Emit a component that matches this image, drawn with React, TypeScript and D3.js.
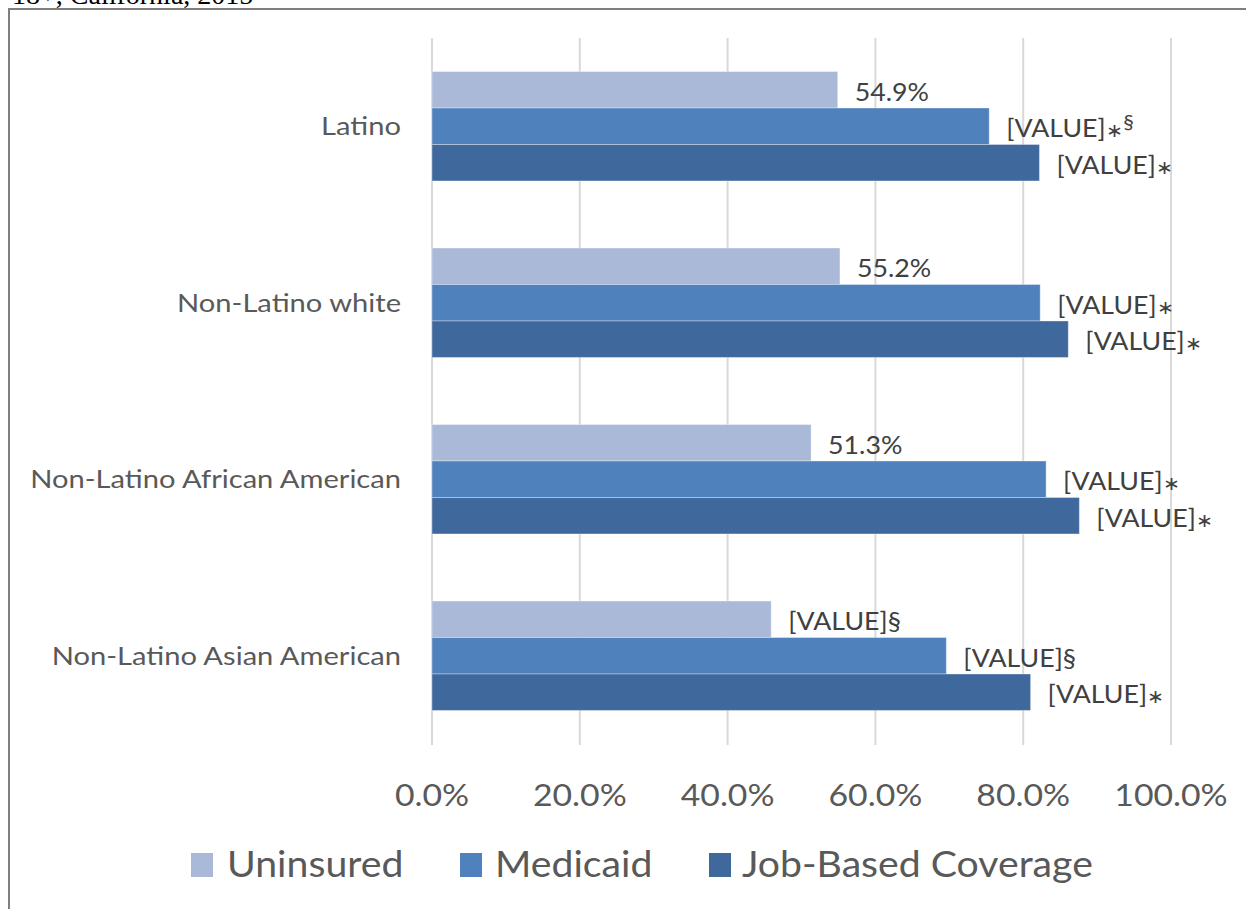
import React from "react";
import * as d3 from "d3";

const categories = ["Latino", "Non-Latino white", "Non-Latino African American", "Non-Latino Asian American"];
const seriesNames = ["Uninsured", "Medicaid", "Job-Based Coverage"];
const uninsured = [54.9, 55.2, 51.3, 45.9];
const medicaid = [75.4, 82.3, 83.1, 69.6];
const jobBased = [82.2, 86.1, 87.6, 81.0];
const uninsuredLabels = ["54.9%", "55.2%", "51.3%", "[VALUE]§"];
const medicaidLabels = ["[VALUE]∗^§", "[VALUE]∗", "[VALUE]∗", "[VALUE]§"];
const jobLabels = ["[VALUE]∗", "[VALUE]∗", "[VALUE]∗", "[VALUE]∗"];
const xTicks = [0, 20, 40, 60, 80, 100];
const colors = ["#AAB9D7", "#4F81BD", "#3F699C"];

const W = 1246;
const H = 909;
const FONT = "Lato, 'Liberation Sans', sans-serif";

function renderLabel(label: string) {
  const parts: React.ReactNode[] = [];
  let sup = false;
  let buf = "";
  const flush = (k: string) => {
    if (buf) parts.push(<tspan key={k}>{buf}</tspan>);
    buf = "";
  };
  for (let i = 0; i < label.length; i++) {
    const ch = label[i];
    if (ch === "^") {
      flush("b" + i);
      sup = true;
      continue;
    }
    if (ch === "∗") {
      flush("b" + i);
      parts.push(
        <tspan key={"a" + i} fontSize={19} dy={0}>
          ∗
        </tspan>
      );
      continue;
    }
    if (sup) {
      parts.push(
        <tspan key={"s" + i} dy={-8} fontSize={20}>
          {ch}
        </tspan>
      );
      continue;
    }
    buf += ch;
  }
  flush("end");
  return parts;
}

export default function App() {
  const x = d3.scaleLinear().domain([0, 100]).range([432, 1171]);
  const y = d3.scaleBand().domain(categories).range([38, 744]).paddingInner(0.38).paddingOuter(0.19);
  const sub = d3.scaleBand().domain(seriesNames).range([0, y.bandwidth()]);
  const series = [
    { name: seriesNames[0], values: uninsured, labels: uninsuredLabels },
    { name: seriesNames[1], values: medicaid, labels: medicaidLabels },
    { name: seriesNames[2], values: jobBased, labels: jobLabels },
  ];
  const legendItems = [
    { name: seriesNames[0], sx: 191, tx: 227 },
    { name: seriesNames[1], sx: 460, tx: 495 },
    { name: seriesNames[2], sx: 709, tx: 742 },
  ];
  return (
    <svg width={W} height={H} style={{ position: "absolute", left: 0, top: 0, background: "#fff" }}>
      <text x={12} y={4} fontFamily="'Liberation Serif', serif" fontSize={28} fill="#000">
        18+, California, 2015
      </text>
      <rect x={9} y={9} width={W} height={H} fill="none" stroke="#7F7F7F" strokeWidth={2} />
      {xTicks.map((t) => (
        <g key={t}>
          <line x1={x(t)} x2={x(t)} y1={38} y2={745} stroke="#D9D9D9" strokeWidth={2} />
          <text transform={`translate(${x(t)},806) scale(1.09,1)`} textAnchor="middle" fontFamily={FONT} fontSize={31} fill="#595959">
            {t.toFixed(1) + "%"}
          </text>
        </g>
      ))}
      {categories.map((c, i) => (
        <g key={c}>
          {series.map((s) => {
            const y0 = (y(c) as number) + (sub(s.name) as number);
            const h = sub.bandwidth();
            return (
              <g key={s.name}>
                <rect x={x(0)} y={y0} width={x(s.values[i]) - x(0)} height={h} fill={colors[seriesNames.indexOf(s.name)]} stroke="#fff" strokeOpacity={0.35} strokeWidth={1} />
                <text transform={`translate(${x(s.values[i]) + 17},${y0 + h / 2 + 11}) scale(1.07,1)`} fontFamily={FONT} fontSize={25} fill="#404040">
                  {renderLabel(s.labels[i])}
                </text>
              </g>
            );
          })}
          <text transform={`translate(401,${(y(c) as number) + y.bandwidth() / 2 + 9}) scale(1.12,1)`} textAnchor="end" fontFamily={FONT} fontSize={26} fill="#595959">
            {c}
          </text>
        </g>
      ))}
      {legendItems.map((l, i) => (
        <g key={l.name}>
          <rect x={l.sx} y={853} width={22} height={24} fill={colors[i]} />
          <text transform={`translate(${l.tx},877) scale(1.06,1)`} fontFamily={FONT} fontSize={37} fill="#595959">
            {l.name}
          </text>
        </g>
      ))}
    </svg>
  );
}
